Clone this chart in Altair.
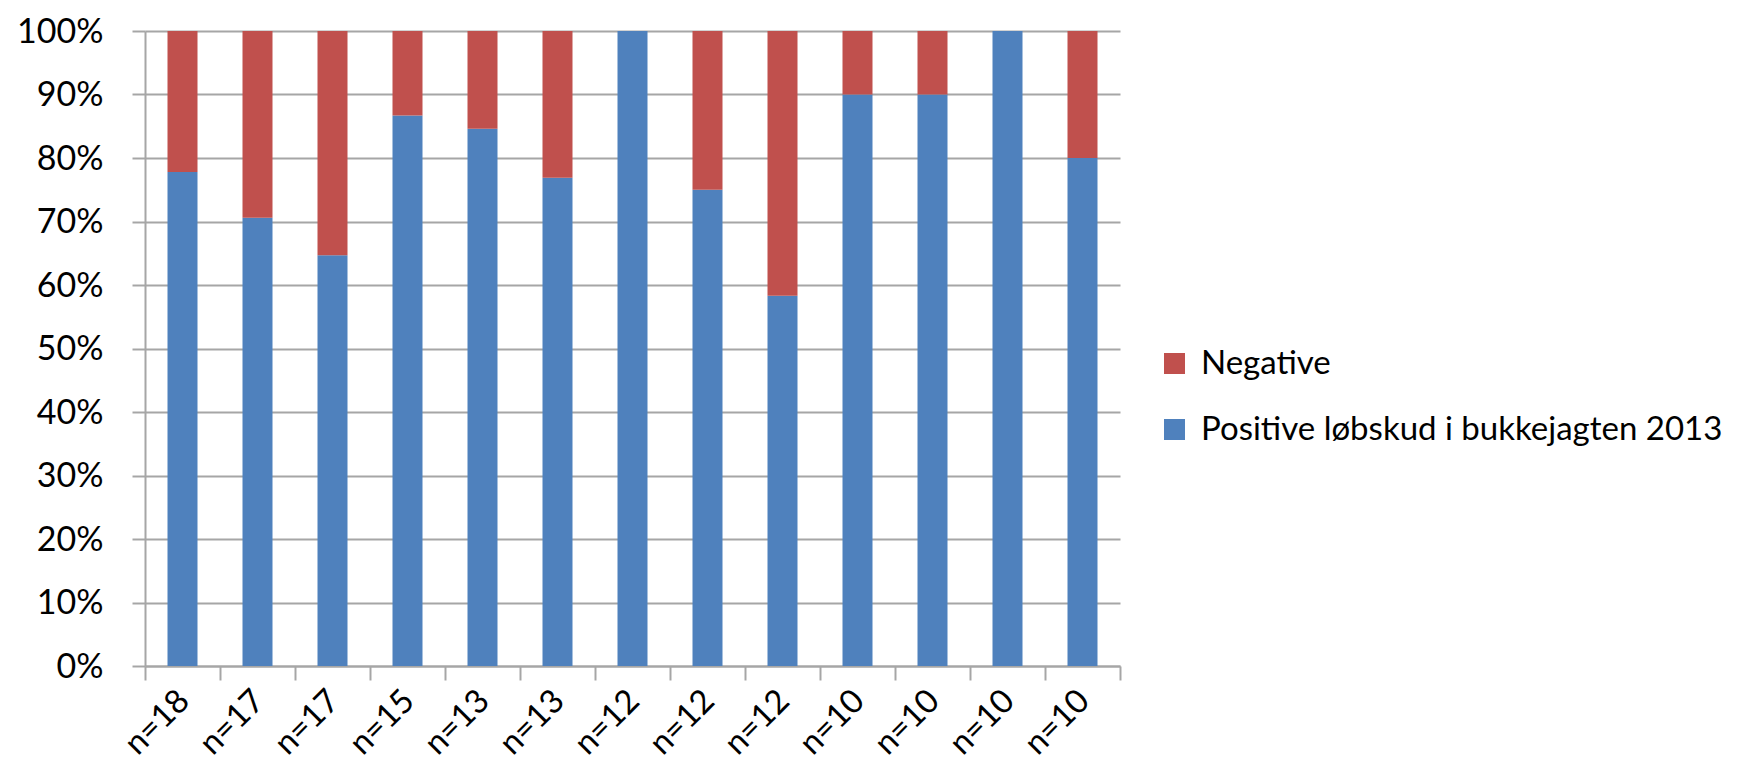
import altair as alt
import pandas as pd

labels = ["n=18", "n=17", "n=17", "n=15", "n=13", "n=13", "n=12",
          "n=12", "n=12", "n=10", "n=10", "n=10", "n=10"]
positive = [77.8, 70.6, 64.7, 86.7, 84.6, 76.9, 100.0, 75.0, 58.3, 90.0, 90.0, 100.0, 80.0]
negative = [22.2, 29.4, 35.3, 13.3, 15.4, 23.1, 0.0, 25.0, 41.7, 10.0, 10.0, 0.0, 20.0]
series = ["Negative", "Positive løbskud i bukkejagten 2013"]
colors = ["#C0504D", "#4F81BD"]

rows = []
for i, lab in enumerate(labels):
    key = f"{lab}|{i:02d}"
    rows.append({"key": key, "series": series[1], "value": positive[i], "ord": 0})
    rows.append({"key": key, "series": series[0], "value": negative[i], "ord": 1})
df = pd.DataFrame(rows)
keys = [f"{lab}|{i:02d}" for i, lab in enumerate(labels)]

FONT = "Lato"
GRID = "#a6a6a6"

chart = alt.Chart(df).mark_bar(width=alt.RelativeBandSize(0.4)).encode(
    x=alt.X("key:N", sort=keys, title=None,
            scale=alt.Scale(paddingInner=0, paddingOuter=0),
            axis=alt.Axis(labelExpr="split(datum.label, '|')[0]", labelAngle=-45,
                          labelAlign="right", labelBaseline="top", labelPadding=4,
                          labelOffset=-10,
                          labelFontSize=33, labelFont=FONT, labelColor="#000000",
                          tickBand="extent", tickSize=14, tickColor=GRID, tickWidth=2,
                          domainColor=GRID, domainWidth=2, grid=False)),
    y=alt.Y("value:Q", stack="zero", title=None,
            scale=alt.Scale(domain=[0, 100], nice=False),
            axis=alt.Axis(values=list(range(0, 101, 10)), labelExpr="datum.value + '%'",
                          labelFontSize=34, labelFont=FONT, labelColor="#000000",
                          labelOffset=1, labelPadding=29, tickSize=13, tickColor=GRID,
                          tickWidth=2, domainColor=GRID, domainWidth=2,
                          gridColor=GRID, gridWidth=2)),
    color=alt.Color("series:N", scale=alt.Scale(domain=series, range=colors), title=None,
                    legend=alt.Legend(orient="none", legendX=1013, legendY=316,
                                      symbolType="square", symbolSize=441,
                                      symbolStrokeWidth=0, symbolOpacity=1,
                                      labelFontSize=33, labelFont=FONT, labelColor="#000000",
                                      labelOffset=10, rowPadding=32, padding=0,
                                      labelLimit=800)),
    order=alt.Order("ord:Q"),
).properties(width=975, height=635,
             autosize=alt.AutoSizeParams(type="none"),
             padding={"left": 137, "top": 23, "right": 626, "bottom": 108}
).configure_view(stroke=None)

chart.save("out.html", embed_options={"renderer": "svg", "actions": False})
